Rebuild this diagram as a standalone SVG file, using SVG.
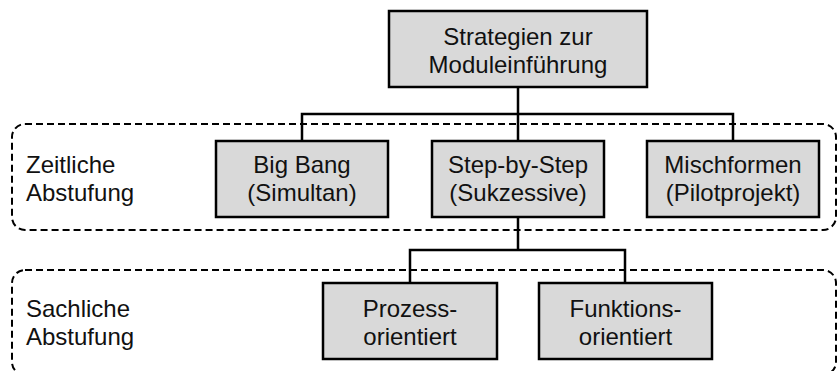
<svg xmlns="http://www.w3.org/2000/svg" width="837" height="371" viewBox="0 0 837 371">
  <style>
    .grp { fill: none; stroke: #000; stroke-width: 2; stroke-dasharray: 7 4; }
    .box { fill: #d9d9d9; stroke: #000; stroke-width: 2.5; }
    .wire { fill: none; stroke: #000; stroke-width: 2.5; }
    text { font-family: "Liberation Sans", Arial, sans-serif; font-size: 24px; fill: #111; }
    .c { text-anchor: middle; }
  </style>
  <rect width="837" height="371" fill="#fff"/>

  <!-- grouping frames -->
  <g id="frames">
    <rect class="grp" x="12" y="124" width="824" height="106" rx="13"/>
    <rect class="grp" x="12" y="270" width="824" height="105" rx="13"/>
    <text x="26" y="173">Zeitliche</text>
    <text x="26" y="201">Abstufung</text>
    <text x="26" y="317">Sachliche</text>
    <text x="26" y="345">Abstufung</text>
  </g>

  <!-- connectors -->
  <g id="connectors">
    <path class="wire" d="M518 87 V114 M302 141 V114 H733 V141 M518 114 V141"/>
    <path class="wire" d="M518 217 V250 M410 283 V250 H625 V283"/>
  </g>

  <g id="root">
    <rect class="box" x="389" y="11" width="258" height="76"/>
    <text class="c" x="518" y="45">Strategien zur</text>
    <text class="c" x="518" y="73">Moduleinführung</text>
  </g>

  <g id="bigbang">
    <rect class="box" x="216" y="141" width="172" height="76"/>
    <text class="c" x="302" y="173">Big Bang</text>
    <text class="c" x="302" y="201">(Simultan)</text>
  </g>

  <g id="stepbystep">
    <rect class="box" x="432" y="141" width="172" height="76"/>
    <text class="c" x="518" y="173">Step-by-Step</text>
    <text class="c" x="518" y="201">(Sukzessive)</text>
  </g>

  <g id="mischformen">
    <rect class="box" x="647" y="141" width="172" height="76"/>
    <text class="c" x="733" y="173">Mischformen</text>
    <text class="c" x="733" y="201">(Pilotprojekt)</text>
  </g>

  <g id="prozess">
    <rect class="box" x="323" y="283" width="174" height="76"/>
    <text class="c" x="410" y="317">Prozess-</text>
    <text class="c" x="410" y="345">orientiert</text>
  </g>

  <g id="funktion">
    <rect class="box" x="539" y="283" width="173" height="76"/>
    <text class="c" x="625.5" y="317">Funktions-</text>
    <text class="c" x="625.5" y="345">orientiert</text>
  </g>
</svg>
